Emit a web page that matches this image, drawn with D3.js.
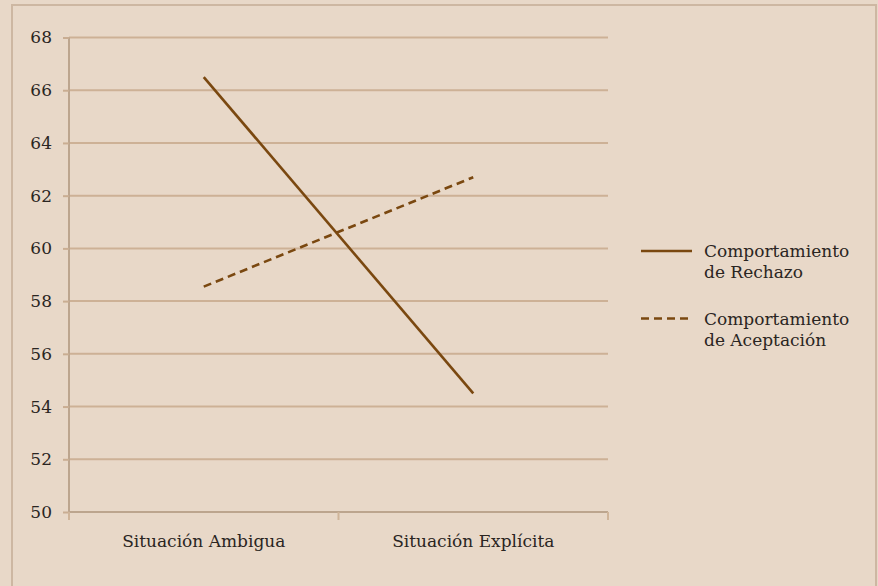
<!DOCTYPE html>
<html>
<head>
<meta charset="utf-8">
<script src="https://cdn.jsdelivr.net/npm/d3@7"></script>
<style>
  body { margin: 0; background: #e8d8c8; }
</style>
</head>
<body>
<div class="chart"></div>
<script>
const categories = ["Situación Ambigua", "Situación Explícita"];
const rechazo = [66.5, 54.5];
const aceptacion = [58.55, 62.7];
const yTicks = [50, 52, 54, 56, 58, 60, 62, 64, 66, 68];
const seriesNames = [["Comportamiento", "de Rechazo"], ["Comportamiento", "de Aceptación"]];

const w = 878;
const h = 586;
const plotLeft = 69, plotRight = 608, plotTop = 37.5, plotBottom = 512;
const lineColor = "#7a4810";
const font = "'DejaVu Serif', serif";
const fontSize = "17px";

const svg = d3.select(".chart")
    .append("svg")
    .attr("width", w)
    .attr("height", h)
    .style("display", "block");

// outer frame
svg.append("rect")
    .attr("x", 12).attr("y", 5)
    .attr("width", w - 14).attr("height", h + 10)
    .attr("fill", "#e8d8c8")
    .attr("stroke", "#cdb7a2")
    .attr("stroke-width", 2);

const x = d3.scaleBand()
    .domain(categories)
    .range([plotLeft, plotRight]);

const y = d3.scaleLinear()
    .domain([50, 68])
    .range([plotBottom, plotTop]);

// gridlines
svg.append("g")
    .selectAll("line")
    .data(yTicks)
    .enter()
    .append("line")
    .attr("x1", plotLeft)
    .attr("x2", plotRight)
    .attr("y1", d => y(d))
    .attr("y2", d => y(d))
    .attr("stroke", "#cdb196")
    .attr("stroke-width", 2);

const yAxis = d3.axisLeft(y).tickValues(yTicks).tickSize(6).tickPadding(11);
const yAxisLine = svg.append("g")
    .attr("transform", `translate(${plotLeft}, 0)`)
    .call(yAxis);
yAxisLine.select(".domain").attr("stroke", "#bca58e").attr("stroke-width", 2).attr("d", `M0,${plotTop}V${plotBottom + 8}`);
yAxisLine.selectAll(".tick line").attr("stroke", "#c9ad92").attr("stroke-width", 2);
yAxisLine.selectAll(".tick text")
    .attr("fill", "#2a2522")
    .style("font-family", font)
    .style("font-size", fontSize);

// bottom axis with ticks on band edges
svg.append("line")
    .attr("x1", plotLeft).attr("x2", plotRight)
    .attr("y1", plotBottom).attr("y2", plotBottom)
    .attr("stroke", "#bca58e").attr("stroke-width", 2);
svg.append("g")
    .selectAll("line")
    .data([plotLeft, plotLeft + x.bandwidth(), plotRight])
    .enter()
    .append("line")
    .attr("x1", d => d).attr("x2", d => d)
    .attr("y1", plotBottom).attr("y2", plotBottom + 8)
    .attr("stroke", "#cfb499").attr("stroke-width", 2);
svg.append("g")
    .selectAll("text")
    .data(categories)
    .enter()
    .append("text")
    .attr("x", d => x(d) + x.bandwidth() / 2)
    .attr("y", 547)
    .attr("text-anchor", "middle")
    .attr("fill", "#2a2522")
    .style("font-family", font)
    .style("font-size", fontSize)
    .text(d => d);

const line = d3.line()
    .x((d, i) => x(categories[i]) + x.bandwidth() / 2)
    .y(d => y(d));

svg.append("path")
    .datum(rechazo)
    .attr("d", line)
    .attr("fill", "none")
    .attr("stroke", lineColor)
    .attr("stroke-width", 2.6);

svg.append("path")
    .datum(aceptacion)
    .attr("d", line)
    .attr("fill", "none")
    .attr("stroke", lineColor)
    .attr("stroke-width", 2.6)
    .attr("stroke-dasharray", "8,5");

// legend
const legend = svg.append("g");
const legendY = [251, 318.5];
seriesNames.forEach((names, i) => {
    legend.append("line")
        .attr("x1", 641).attr("x2", 692)
        .attr("y1", legendY[i]).attr("y2", legendY[i])
        .attr("stroke", lineColor)
        .attr("stroke-width", 2.6)
        .attr("stroke-dasharray", i === 1 ? "8,5" : null);
    names.forEach((t, j) => {
        legend.append("text")
            .attr("x", 704)
            .attr("y", legendY[i] + 6 + j * 21)
            .attr("fill", "#2a2522")
            .style("font-family", font)
            .style("font-size", fontSize)
            .text(t);
    });
});
</script>
</body>
</html>
